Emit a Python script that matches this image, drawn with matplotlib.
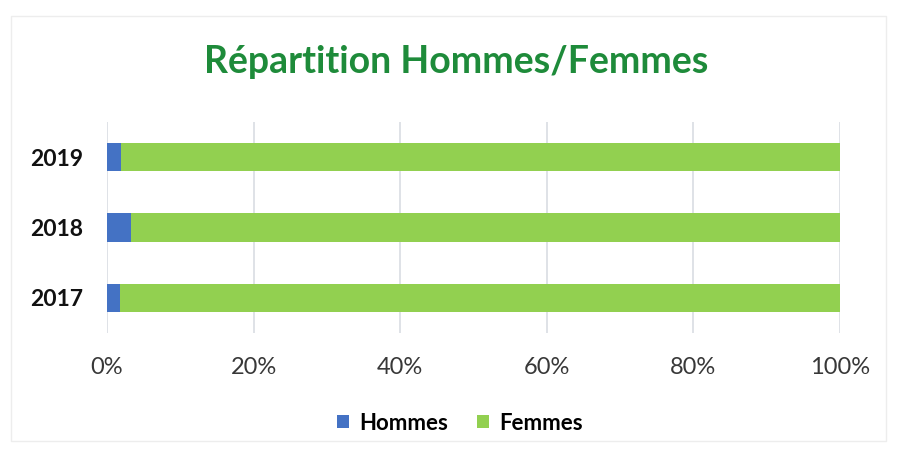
import numpy as np
import matplotlib
matplotlib.use("Agg")
import matplotlib.pyplot as plt
from matplotlib.patches import Rectangle
from matplotlib.ticker import PercentFormatter

plt.rcParams["font.family"] = ["Lato", "DejaVu Sans"]

# Daten
annees = ["2017", "2018", "2019"]
hommes = [1.8, 3.3, 1.9]          # en %
femmes = [100 - h for h in hommes]
x_ticks = [0, 20, 40, 60, 80, 100]

BLEU = "#4472C4"
VERT = "#92D050"

fig = plt.figure(figsize=(8.98, 4.5), dpi=100)
fig.patches.append(Rectangle((0.012, 0.02), 0.975, 0.945, transform=fig.transFigure,
                             fill=False, edgecolor="#EDEDED", linewidth=1))
ax = fig.add_axes([0.1192, 0.26, 0.8162, 0.469])

y = np.arange(len(annees))
ax.barh(y, hommes, height=0.4, color=BLEU, label="Hommes", zorder=3)
ax.barh(y, femmes, left=hommes, height=0.4, color=VERT, label="Femmes", zorder=3)

ax.set_xlim(0, 100)
ax.set_ylim(-0.5, 2.5)
ax.set_xticks(x_ticks)
ax.xaxis.set_major_formatter(PercentFormatter(decimals=0))
ax.set_yticks(y)
ax.set_yticklabels(annees, fontweight="bold")
ax.tick_params(axis="x", labelsize=17, length=0, pad=17, colors="#383838")
ax.tick_params(axis="y", labelsize=16.5, length=0, pad=17)
for lbl in ax.get_yticklabels():
    lbl.set_color("#111111")
ax.grid(axis="x", color="#D9DDE3", linewidth=1.2, zorder=0)
for s in ax.spines.values():
    s.set_visible(False)

fig.text(0.508, 0.862, "Répartition Hommes/Femmes", ha="center", va="center",
         fontsize=27, fontweight="bold", color="#1E8B3A")

fig.legend(loc="center", bbox_to_anchor=(0.512, 0.06), ncol=2, frameon=False,
           prop={"size": 16, "weight": "bold"}, handlelength=0.55, handleheight=0.55,
           columnspacing=1.3, handletextpad=0.45)

fig.savefig("out.png", dpi=100)
